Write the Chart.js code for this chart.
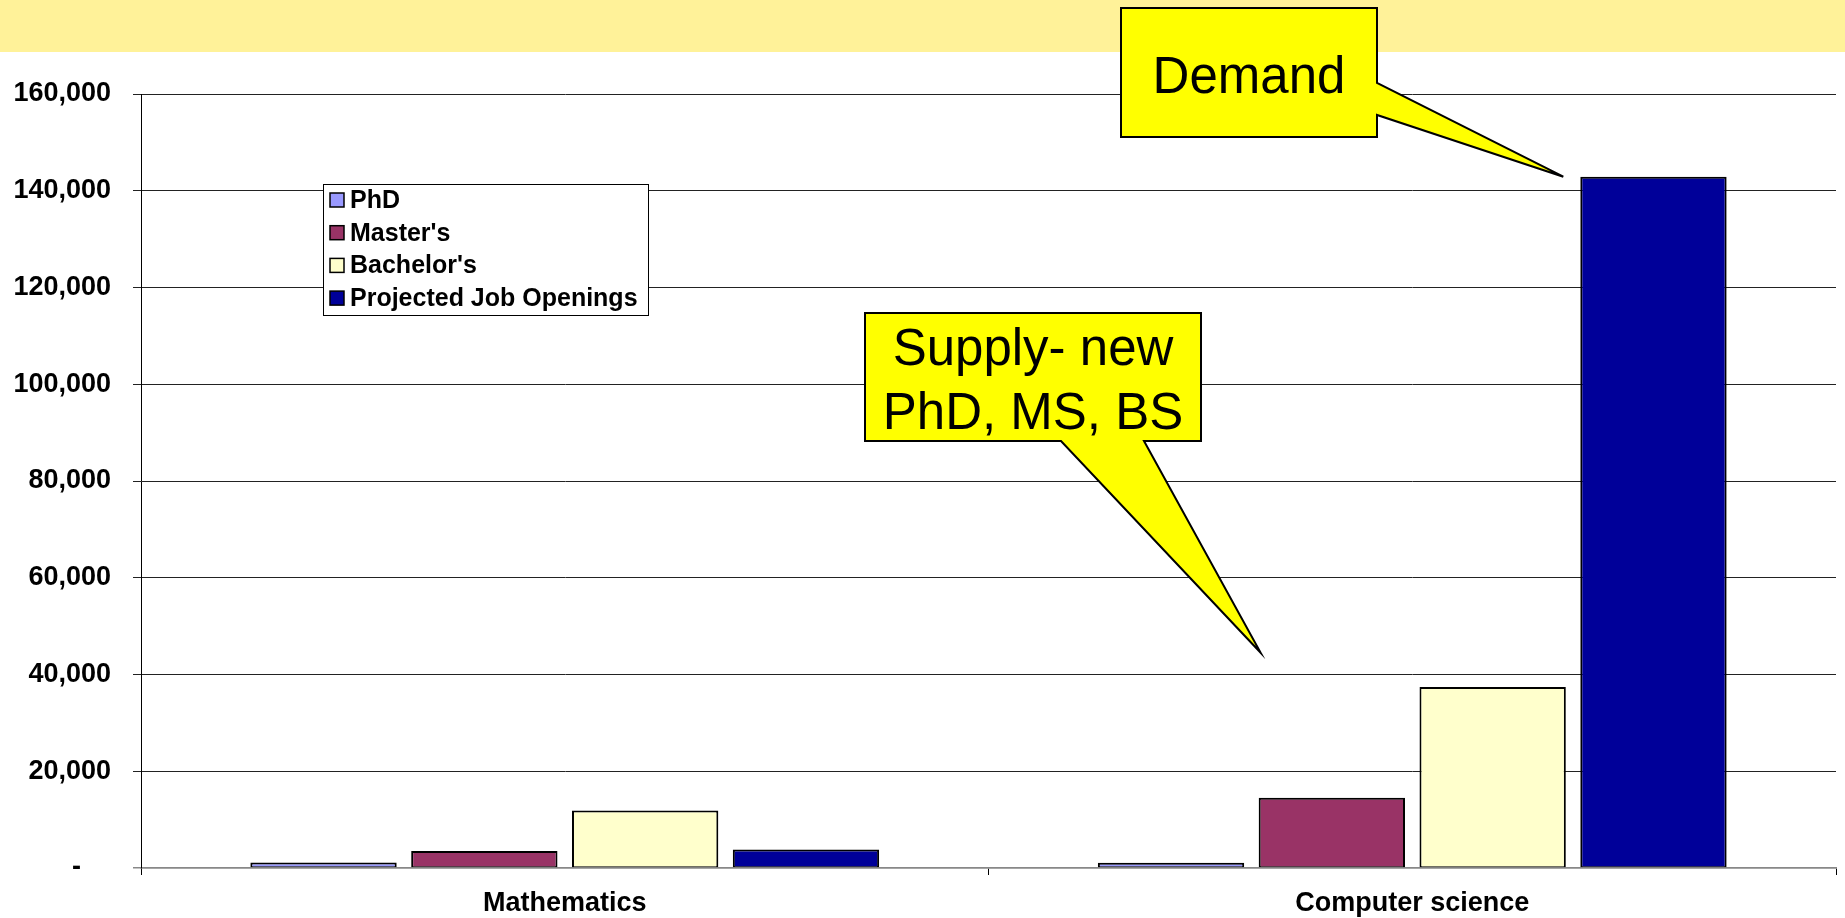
<!DOCTYPE html>
<html>
<head>
<meta charset="utf-8">
<script src="https://cdn.jsdelivr.net/npm/chart.js@4"></script>
<style>
  html, body { margin: 0; padding: 0; background: #fff; }
  #wrap { width: 1845px; height: 918px; }
</style>
</head>
<body>
<div id="wrap"><canvas id="chart" width="1845" height="918"></canvas></div>
<script>
const categories = ['Mathematics', 'Computer science'];
const seriesNames = ['PhD', "Master's", "Bachelor's", 'Projected Job Openings'];
const seriesColors = ['#9999FF', '#993366', '#FFFFCC', '#000099'];
const phd = [1150, 1100];
const masters = [3500, 14500];
const bachelors = [11900, 37400];
const jobOpenings = [3800, 142900];
const yTicks = [0, 20000, 40000, 60000, 80000, 100000, 120000, 140000, 160000];

const FONT = 'Liberation Sans, Arial, sans-serif';

function fmt(v) {
    if (v === 0) return '-    ';
    return v.toLocaleString('en-US');
}

// yellow band across the top
const bandPlugin = {
    id: 'band',
    beforeDraw(chart) {
        const { ctx } = chart;
        ctx.save();
        ctx.fillStyle = '#FFF299';
        ctx.fillRect(0, 0, chart.width, 52);
        ctx.restore();
    }
};

function drawCallout(ctx, pts, lines, cx, baselines) {
    ctx.save();
    ctx.beginPath();
    ctx.moveTo(pts[0][0], pts[0][1]);
    for (let i = 1; i < pts.length; i++) ctx.lineTo(pts[i][0], pts[i][1]);
    ctx.closePath();
    ctx.fillStyle = '#FFFF00';
    ctx.fill();
    ctx.lineWidth = 2;
    ctx.lineJoin = 'miter';
    ctx.strokeStyle = '#000';
    ctx.stroke();
    ctx.fillStyle = '#000';
    ctx.font = '51px ' + FONT;
    ctx.textAlign = 'center';
    ctx.textBaseline = 'alphabetic';
    lines.forEach((t, i) => ctx.fillText(t, cx, baselines[i]));
    ctx.restore();
}

const overlayPlugin = {
    id: 'overlay',
    afterDraw(chart) {
        const { ctx } = chart;
        const y = chart.scales.y;

        // legend box
        ctx.save();
        ctx.fillStyle = '#fff';
        ctx.fillRect(323.5, 184.5, 325, 131);
        ctx.strokeStyle = '#000';
        ctx.lineWidth = 1;
        ctx.strokeRect(323.5, 184.5, 325, 131);
        ctx.font = 'bold 25px ' + FONT;
        ctx.textBaseline = 'middle';
        ctx.textAlign = 'left';
        chart.data.datasets.forEach((ds, i) => {
            const cy = 200 + i * 32.7;
            ctx.fillStyle = ds.backgroundColor;
            ctx.fillRect(330, cy - 7, 14, 14);
            ctx.lineWidth = 1.5;
            ctx.strokeStyle = '#000';
            ctx.strokeRect(330, cy - 7, 14, 14);
            ctx.fillStyle = '#000';
            ctx.fillText(ds.label, 350, cy + 1);
        });
        ctx.restore();

        // Demand callout, pointing at the top of the job openings bar
        const demandBar = chart.getDatasetMeta(3).data[1];
        const dTipX = demandBar.x - demandBar.width / 2 - 17;
        const dTipY = demandBar.y;
        drawCallout(ctx, [
            [1121, 8], [1377, 8], [1377, 83], [dTipX, dTipY],
            [1377, 115], [1377, 137], [1121, 137]
        ], ['Demand'], 1249, [93]);

        // Supply callout
        const msBar = chart.getDatasetMeta(1).data[1];
        const sTipX = msBar.x - msBar.width / 2 + 2;
        const sTipY = y.getPixelForValue(44500);
        drawCallout(ctx, [
            [865, 313], [1201, 313], [1201, 441], [1144, 441],
            [sTipX, sTipY], [1061, 441], [865, 441]
        ], ['Supply- new', 'PhD, MS, BS'], 1033, [365, 429]);
    }
};

const seriesData = [phd, masters, bachelors, jobOpenings];

new Chart(document.getElementById('chart'), {
    type: 'bar',
    data: {
        labels: categories,
        datasets: seriesNames.map((name, i) => ({
            label: name,
            data: seriesData[i],
            backgroundColor: seriesColors[i],
            borderColor: '#000',
            borderWidth: { top: 2, left: 2, right: 2, bottom: 1 },
            borderSkipped: false,
            categoryPercentage: 0.759,
            barPercentage: 0.91
        }))
    },
    options: {
        responsive: false,
        animation: false,
        layout: { padding: { top: 94, right: 9, left: 0, bottom: 0 } },
        plugins: {
            legend: { display: false },
            tooltip: { enabled: false }
        },
        scales: {
            x: {
                afterFit(scale) { scale.height = 50; },
                grid: {
                    offset: true,
                    drawOnChartArea: false,
                    tickLength: 7,
                    color: '#000',
                    lineWidth: 1
                },
                border: { color: '#888', width: 1.5 },
                ticks: {
                    color: '#000',
                    padding: 12,
                    font: { family: FONT, weight: 'bold', size: 27 }
                }
            },
            y: {
                min: 0,
                max: 160000,
                afterFit(scale) { scale.width = 141; },
                afterBuildTicks(scale) { scale.ticks = yTicks.map(v => ({ value: v })); },
                grid: {
                    color: ctx => ctx.tick && ctx.tick.value === 0 ? '#888' : '#222',
                    lineWidth: ctx => ctx.tick && ctx.tick.value === 0 ? 1.5 : 1,
                    tickLength: 8
                },
                border: { color: '#000', width: 1 },
                ticks: {
                    color: '#000',
                    padding: 22,
                    font: { family: FONT, weight: 'bold', size: 27 },
                    callback: v => fmt(v)
                }
            }
        }
    },
    plugins: [bandPlugin, overlayPlugin]
});
</script>
</body>
</html>
